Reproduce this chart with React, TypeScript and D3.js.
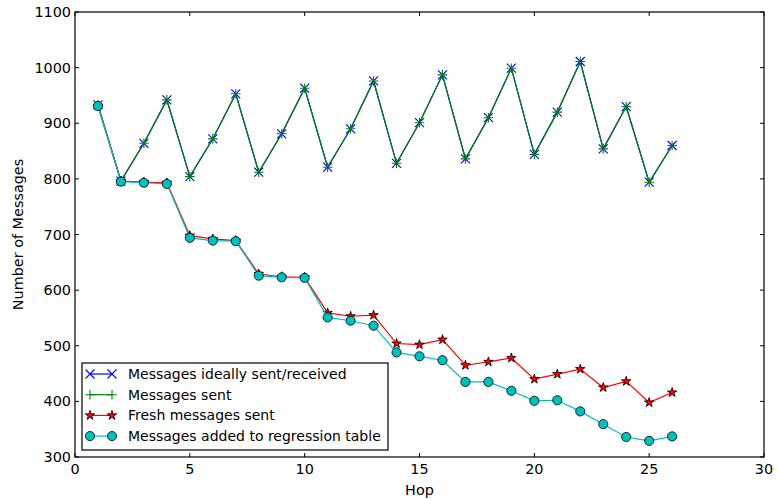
import React, { useEffect } from "react";
import * as d3 from "d3";

// hop numbers
const hops = [1, 2, 3, 4, 5, 6, 7, 8, 9, 10, 11, 12, 13, 14, 15, 16, 17, 18, 19, 20, 21, 22, 23, 24, 25, 26];

const ideal = [933, 796, 864, 942, 804, 872, 953, 812, 881, 963, 821, 890, 976, 828, 901, 987, 836, 910, 999, 844, 920, 1011, 854, 930, 794, 860];
const sent = [933, 796, 864, 942, 804, 872, 953, 812, 881, 963, 821, 890, 976, 828, 901, 987, 836, 910, 999, 844, 920, 1011, 854, 930, 794, 860];
const fresh = [931, 796, 794, 793, 698, 692, 689, 629, 624, 623, 559, 553, 555, 504, 502, 511, 465, 471, 478, 440, 449, 458, 425, 436, 398, 416];
const regression = [931, 795, 793, 791, 694, 689, 688, 626, 623, 622, 551, 545, 536, 488, 481, 474, 435, 435, 419, 401, 402, 382, 359, 336, 329, 337];

const xTicks = [0, 5, 10, 15, 20, 25, 30];
const yTicks = [300, 400, 500, 600, 700, 800, 900, 1000, 1100];

const legendLabels = [
  "Messages ideally sent/received",
  "Messages sent",
  "Fresh messages sent",
  "Messages added to regression table",
];

const W = 777,
  H = 500;
const margin = { top: 12, right: 13, bottom: 43, left: 75 };
const font = "DejaVu Sans, sans-serif";

const xMark = (r: number) => `M${-r},${-r}L${r},${r}M${-r},${r}L${r},${-r}`;
const plusMark = (r: number) => `M${-r},0L${r},0M0,${-r}L0,${r}`;
const starPath = d3.symbol().type(d3.symbolStar).size(28)() as string;

function Marker({ kind, x, y }: { kind: number; x: number; y: number }) {
  const t = `translate(${x},${y})`;
  if (kind === 0) return <path transform={t} d={xMark(4.5)} stroke="#0000ff" strokeWidth={1.1} fill="none" />;
  if (kind === 1) return <path transform={t} d={plusMark(4.8)} stroke="#008000" strokeWidth={1.1} fill="none" />;
  if (kind === 2) return <path transform={t} d={starPath} fill="#ff0000" stroke="#000" strokeWidth={0.8} />;
  return <circle cx={x} cy={y} r={4.6} fill="#00bfbf" stroke="#000" strokeWidth={0.8} />;
}

export default function App() {
  useEffect(() => {
    document.body.style.margin = "0";
  }, []);

  const w = W - margin.left - margin.right;
  const h = H - margin.top - margin.bottom;
  const x = d3.scaleLinear().domain([0, 30]).range([margin.left, margin.left + w]);
  const y = d3.scaleLinear().domain([300, 1100]).range([margin.top + h, margin.top]);

  const series = [
    { data: ideal, color: "#0000ff" },
    { data: sent, color: "#008000" },
    { data: fresh, color: "#ff0000" },
    { data: regression, color: "#00bfbf" },
  ];

  const line = d3
    .line<number>()
    .x((_, i) => x(hops[i]))
    .y((d) => y(d));

  const x0 = margin.left,
    x1 = margin.left + w,
    y0 = margin.top,
    y1 = margin.top + h;

  // legend box
  const lg = { x: 82, y: 363, w: 306, h: 87 };

  return (
    <svg width={W} height={H} style={{ display: "block", background: "#fff" }} fontFamily={font}>
      {/* ticks, inward on all four sides */}
      {xTicks.map((t) => (
        <g key={"xt" + t}>
          <line x1={x(t)} x2={x(t)} y1={y1} y2={y1 - 4} stroke="#000" />
          <line x1={x(t)} x2={x(t)} y1={y0} y2={y0 + 4} stroke="#000" />
          <text x={x(t)} y={y1 + 17} textAnchor="middle" fontSize={14.4}>
            {t}
          </text>
        </g>
      ))}
      {yTicks.map((t) => (
        <g key={"yt" + t}>
          <line x1={x0} x2={x0 + 4} y1={y(t)} y2={y(t)} stroke="#000" />
          <line x1={x1} x2={x1 - 4} y1={y(t)} y2={y(t)} stroke="#000" />
          <text x={x0 - 4} y={y(t)} dy="0.35em" textAnchor="end" fontSize={14.4}>
            {t}
          </text>
        </g>
      ))}

      {series.map((s, i) => (
        <g key={"s" + i}>
          <path d={line(s.data) as string} fill="none" stroke={s.color} strokeWidth={1.2} />
          {s.data.map((v, j) => (
            <Marker key={j} kind={i} x={x(hops[j])} y={y(v)} />
          ))}
        </g>
      ))}

      <rect x={x0} y={y0} width={w} height={h} fill="none" stroke="#000" strokeWidth={1.2} />

      {/* legend */}
      <rect x={lg.x} y={lg.y} width={lg.w} height={lg.h} fill="#fff" stroke="#000" strokeWidth={1.2} />
      {legendLabels.map((lab, i) => {
        const ly = 374 + i * 20.7;
        return (
          <g key={"lg" + i}>
            <line x1={90} x2={112} y1={ly} y2={ly} stroke={series[i].color} strokeWidth={1.2} />
            <Marker kind={i} x={90} y={ly} />
            <Marker kind={i} x={112} y={ly} />
            <text x={128} y={ly} dy="0.35em" fontSize={14}>
              {lab}
            </text>
          </g>
        );
      })}

      <text x={(x0 + x1) / 2} y={495} textAnchor="middle" fontSize={14.4}>
        Hop
      </text>
      <text transform={`translate(23,${(y0 + y1) / 2}) rotate(-90)`} textAnchor="middle" fontSize={14.4}>
        Number of Messages
      </text>
    </svg>
  );
}
